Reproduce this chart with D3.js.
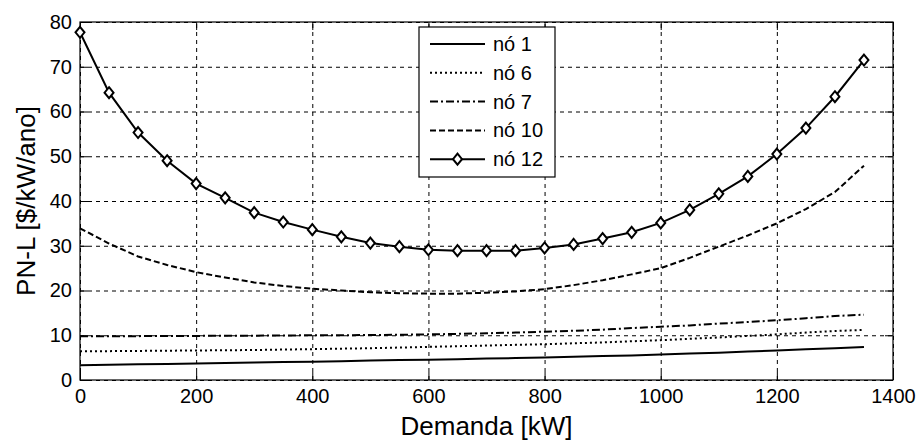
<!DOCTYPE html>
<html>
<head>
<meta charset="utf-8">
<script src="https://cdn.jsdelivr.net/npm/d3@7"></script>
<style>
  body { margin: 0; background: #fff; }
  svg { display: block; font-family: 'Liberation Sans', Arial, sans-serif; }
</style>
</head>
<body>
<svg id="chart"></svg>
<script>
// demand (kW)
const demanda = [0, 50, 100, 150, 200, 250, 300, 350, 400, 450, 500, 550, 600, 650,
  700, 750, 800, 850, 900, 950, 1000, 1050, 1100, 1150, 1200, 1250, 1300, 1350]

// PN-L per node ($/kW/ano)
const no1 = [3.3, 3.4, 3.5, 3.6, 3.7, 3.8, 3.9, 4.0, 4.1, 4.2, 4.35, 4.45, 4.55, 4.65,
  4.8, 4.9, 5.05, 5.2, 5.35, 5.5, 5.7, 5.9, 6.1, 6.35, 6.6, 6.85, 7.1, 7.4]
const no6 = [6.4, 6.45, 6.5, 6.55, 6.6, 6.65, 6.7, 6.8, 6.9, 7.0, 7.1, 7.25, 7.4, 7.55,
  7.7, 7.85, 8.0, 8.2, 8.4, 8.65, 8.9, 9.2, 9.5, 9.85, 10.2, 10.6, 10.95, 11.2]
const no7 = [9.8, 9.8, 9.8, 9.85, 9.85, 9.9, 9.9, 9.95, 10.0, 10.0, 10.05, 10.1, 10.2, 10.3,
  10.45, 10.6, 10.8, 11.0, 11.25, 11.6, 11.9, 12.2, 12.6, 12.95, 13.35, 13.8, 14.3, 14.6]
const no10 = [33.9, 30.5, 27.6, 25.7, 24.1, 22.9, 21.8, 21.0, 20.4, 20.0, 19.6, 19.4, 19.3, 19.3,
  19.5, 19.8, 20.3, 21.2, 22.3, 23.6, 25.0, 27.3, 29.8, 32.3, 35.0, 38.2, 42.0, 47.9]
const no12 = [77.7, 64.2, 55.3, 49.0, 43.9, 40.7, 37.4, 35.3, 33.6, 32.0, 30.6, 29.8, 29.1, 28.9,
  28.9, 28.9, 29.5, 30.3, 31.6, 33.0, 35.1, 38.0, 41.6, 45.5, 50.5, 56.3, 63.3, 71.5]

const xTicks = [0, 200, 400, 600, 800, 1000, 1200, 1400]
const yTicks = [0, 10, 20, 30, 40, 50, 60, 70, 80]

const series = [
  { name: 'nó 1', values: no1, dash: null },
  { name: 'nó 6', values: no6, dash: '2,3' },
  { name: 'nó 7', values: no7, dash: '8,3,2,3' },
  { name: 'nó 10', values: no10, dash: '6,3' },
  { name: 'nó 12', values: no12, dash: null, marker: true }
]

const width = 923
const height = 441
const margin = { top: 22, right: 30, bottom: 61, left: 80 }
const w = width - margin.left - margin.right
const h = height - margin.top - margin.bottom

const svg = d3.select('#chart').attr('width', width).attr('height', height)
const g = svg.append('g').attr('transform', `translate(${margin.left},${margin.top})`)

const x = d3.scaleLinear().domain([0, 1400]).range([0, w])
const y = d3.scaleLinear().domain([0, 80]).range([h, 0])
const fmt = d3.format('d')

// grid
g.append('g')
  .attr('class', 'grid')
  .attr('transform', `translate(0,${h})`)
  .call(d3.axisBottom(x).tickValues(xTicks).tickSize(-h).tickFormat(''))
g.append('g')
  .attr('class', 'grid')
  .call(d3.axisLeft(y).tickValues(yTicks).tickSize(-w).tickFormat(''))
g.selectAll('.grid .domain').remove()
g.selectAll('.grid line')
  .attr('stroke', '#000')
  .attr('stroke-width', 1)
  .attr('stroke-dasharray', '4,4')

// axes, ticks pointing inward
const tickLen = 8
g.append('g')
  .attr('transform', `translate(0,${h})`)
  .call(d3.axisBottom(x).tickValues(xTicks).tickFormat(fmt).tickSizeInner(-tickLen).tickSizeOuter(0).tickPadding(9))
g.append('g')
  .call(d3.axisLeft(y).tickValues(yTicks).tickFormat(fmt).tickSizeInner(-tickLen).tickSizeOuter(0).tickPadding(8))
g.append('g')
  .call(d3.axisTop(x).tickValues(xTicks).tickSizeInner(-tickLen).tickSizeOuter(0).tickFormat(''))
g.append('g')
  .attr('transform', `translate(${w},0)`)
  .call(d3.axisRight(y).tickValues(yTicks).tickSizeInner(-tickLen).tickSizeOuter(0).tickFormat(''))

g.selectAll('.domain').remove()
g.selectAll('.tick text')
  .attr('font-size', 20)
  .attr('fill', '#000')
  .style('font-family', "'Liberation Sans', Arial, sans-serif")

// frame
g.append('rect')
  .attr('width', w)
  .attr('height', h)
  .attr('fill', 'none')
  .attr('stroke', '#000')
  .attr('stroke-width', 1.2)

// lines
const line = vals => d3.line()
  .x((d, i) => x(demanda[i]))
  .y(d => y(d))(vals)

series.forEach(s => {
  g.append('path')
    .attr('d', line(s.values))
    .attr('fill', 'none')
    .attr('stroke', '#000')
    .attr('stroke-width', 2)
    .attr('stroke-dasharray', s.dash)
  if (s.marker) {
    g.selectAll('.mk')
      .data(s.values)
      .join('path')
      .attr('class', 'mk')
      .attr('transform', (d, i) => `translate(${x(demanda[i])},${y(d)})`)
      .attr('d', 'M0,-5.5L4.5,0L0,5.5L-4.5,0Z')
      .attr('fill', '#fff')
      .attr('stroke', '#000')
      .attr('stroke-width', 2)
  }
})

// axis labels
svg.append('text')
  .attr('x', margin.left + w / 2)
  .attr('y', 435)
  .attr('text-anchor', 'middle')
  .attr('font-size', 26)
  .text('Demanda [kW]')

svg.append('text')
  .attr('transform', `translate(35,${margin.top + h / 2}) rotate(-90)`)
  .attr('text-anchor', 'middle')
  .attr('font-size', 26)
  .text('PN-L [$/kW/ano]')

// legend
const legend = svg.append('g').attr('transform', 'translate(419,27)')
legend.append('rect')
  .attr('width', 136)
  .attr('height', 150)
  .attr('fill', '#fff')
  .attr('stroke', '#000')
  .attr('stroke-width', 1.2)

const rows = legend.selectAll('.row')
  .data(series)
  .join('g')
  .attr('class', 'row')
  .attr('transform', (d, i) => `translate(0,${17 + i * 28.8})`)

rows.append('line')
  .attr('x1', 11)
  .attr('x2', 66)
  .attr('stroke', '#000')
  .attr('stroke-width', 2)
  .attr('stroke-dasharray', d => d.dash)

rows.filter(d => d.marker)
  .append('path')
  .attr('transform', 'translate(38.5,0)')
  .attr('d', 'M0,-5.5L4.5,0L0,5.5L-4.5,0Z')
  .attr('fill', '#fff')
  .attr('stroke', '#000')
  .attr('stroke-width', 2)

rows.append('text')
  .attr('x', 74)
  .attr('dy', '0.35em')
  .attr('font-size', 20)
  .text(d => d.name)
</script>
</body>
</html>
